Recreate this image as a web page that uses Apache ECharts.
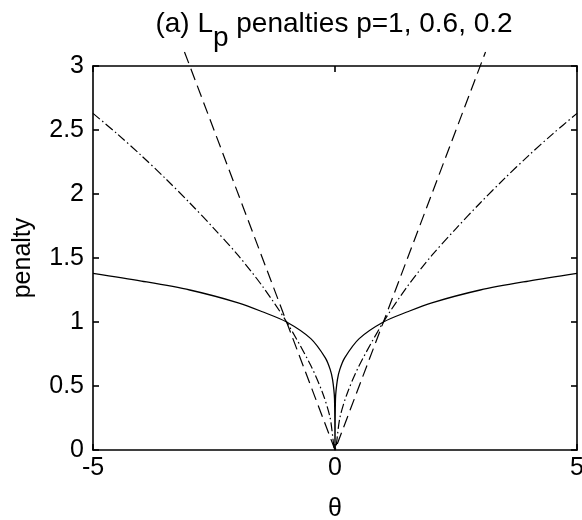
<!DOCTYPE html>
<html><head><meta charset="utf-8">
<script src="https://cdn.jsdelivr.net/npm/echarts@6/dist/echarts.min.js"></script>
<style>html,body{margin:0;padding:0;background:#fff}#c{width:582px;height:520px}</style>
</head><body><div id="c"></div>
<script>
// Values
const thetaSolid = [-5,-4,-3,-2,-1.5,-1,-0.5,-0.2,-0.1,-0.05,-0.01,0,0.01,0.05,0.1,0.2,0.5,1,1.5,2,3,4,5];
const penaltyP02 = [1.38,1.32,1.25,1.15,1.08,1.0,0.87,0.72,0.63,0.55,0.40,0,0.40,0.55,0.63,0.72,0.87,1.0,1.08,1.15,1.25,1.32,1.38];
const thetaDashDot = [-5,-4.5,-4,-3.5,-3,-2.5,-2,-1.5,-1,-0.5,-0.25,-0.1,0,0.1,0.25,0.5,1,1.5,2,2.5,3,3.5,4,4.5,5];
const penaltyP06 = [2.63,2.47,2.30,2.12,1.93,1.73,1.52,1.28,1.0,0.66,0.44,0.25,0,0.25,0.44,0.66,1.0,1.28,1.52,1.73,1.93,2.12,2.30,2.47,2.63];
const thetaDashed = [-3.11,0,3.11];
const penaltyP1 = [3.11,0,3.11];
const xTicks = [-5,0,5];
const yTicks = [0,0.5,1,1.5,2,2.5,3];

const zip = (a,b)=>a.map((v,i)=>[v,b[i]]);
const FONT = 'Liberation Sans';
const axisLineStyle = {color:'#000', width:1.6};
const chart = echarts.init(document.getElementById('c'), null, {renderer:'canvas'});
chart.setOption({
  animation:false,
  backgroundColor:'#fff',
  title:{
    text:'(a) L{sub|p} penalties p=1, 0.6, 0.2',
    left:329, textAlign:'center', top:-9,
    textStyle:{fontFamily:FONT, fontSize:28, fontWeight:'normal', color:'#000',
      rich:{sub:{fontFamily:FONT, fontSize:28, color:'#000', padding:[28,0,0,0]}}}
  },
  grid:{left:93, right:5, top:66, bottom:70, containLabel:false, outerBoundsMode:'none'},
  xAxis:[{
    type:'value', min:-5, max:5, interval:5, position:'bottom',
    name:'θ', nameLocation:'middle', nameGap:47,
    nameTextStyle:{fontFamily:FONT, fontSize:25, color:'#000'},
    axisLine:{show:true, onZero:false, lineStyle:axisLineStyle},
    axisTick:{show:true, inside:true, length:6, lineStyle:axisLineStyle},
    axisLabel:{fontFamily:FONT, fontSize:25, color:'#000', margin:6,
      formatter:v=>xTicks.includes(v)?String(v):''},
    splitLine:{show:false}
  },{
    type:'value', min:-5, max:5, interval:5, position:'top',
    axisLine:{show:true, onZero:false, lineStyle:axisLineStyle},
    axisTick:{show:true, inside:true, length:6, lineStyle:axisLineStyle},
    axisLabel:{show:false}, splitLine:{show:false}
  }],
  yAxis:[{
    type:'value', min:0, max:3, interval:0.5, position:'left',
    name:'penalty', nameLocation:'middle', nameGap:57, nameRotate:90,
    nameTextStyle:{fontFamily:FONT, fontSize:25, color:'#000'},
    axisLine:{show:true, onZero:false, lineStyle:axisLineStyle},
    axisTick:{show:true, inside:true, length:6, lineStyle:axisLineStyle},
    axisLabel:{fontFamily:FONT, fontSize:25, color:'#000', margin:9,
      formatter:v=>yTicks.includes(v)?String(v):''},
    splitLine:{show:false}
  },{
    type:'value', min:0, max:3, interval:0.5, position:'right',
    axisLine:{show:true, onZero:false, lineStyle:axisLineStyle},
    axisTick:{show:true, inside:true, length:6, lineStyle:axisLineStyle},
    axisLabel:{show:false}, splitLine:{show:false}
  }],
  series:[
    {type:'line', name:'p=1', data:zip(thetaDashed,penaltyP1), showSymbol:false, clip:false,
     lineStyle:{color:'#000', width:1.2, type:[12,6]}},
    {type:'line', name:'p=0.6', data:zip(thetaDashDot,penaltyP06), showSymbol:false, smooth:0.3,
     lineStyle:{color:'#000', width:1.2, type:[9,3,1.5,3]}},
    {type:'line', name:'p=0.2', data:zip(thetaSolid,penaltyP02), showSymbol:false, smooth:0.3,
     lineStyle:{color:'#000', width:1.3}}
  ]
});
</script></body></html>
